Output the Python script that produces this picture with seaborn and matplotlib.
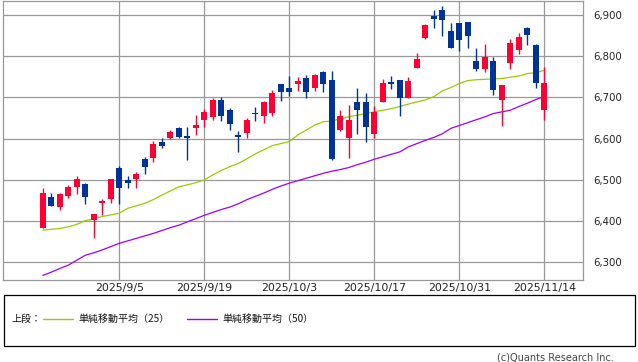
import matplotlib
matplotlib.use("Agg")
import matplotlib.pyplot as plt
from matplotlib.lines import Line2D
from matplotlib.patches import Rectangle
import seaborn as sns
import pandas as pd
import numpy as np

dates = ["2025/8/22", "2025/8/25", "2025/8/26", "2025/8/27", "2025/8/28", "2025/8/29",
         "2025/9/2", "2025/9/3", "2025/9/4", "2025/9/5",
         "2025/9/8", "2025/9/9", "2025/9/10", "2025/9/11", "2025/9/12",
         "2025/9/15", "2025/9/16", "2025/9/17", "2025/9/18", "2025/9/19",
         "2025/9/22", "2025/9/23", "2025/9/24", "2025/9/25", "2025/9/26",
         "2025/9/29", "2025/9/30", "2025/10/1", "2025/10/2", "2025/10/3",
         "2025/10/6", "2025/10/7", "2025/10/8", "2025/10/9", "2025/10/10",
         "2025/10/13", "2025/10/14", "2025/10/15", "2025/10/16", "2025/10/17",
         "2025/10/20", "2025/10/21", "2025/10/22", "2025/10/23", "2025/10/24",
         "2025/10/27", "2025/10/28", "2025/10/29", "2025/10/30", "2025/10/31",
         "2025/11/3", "2025/11/4", "2025/11/5", "2025/11/6", "2025/11/7",
         "2025/11/10", "2025/11/11", "2025/11/12", "2025/11/13", "2025/11/14"]

opens = [6384, 6458, 6435, 6462, 6483, 6491, 6402, 6444, 6454, 6529,
         6499, 6502, 6550, 6554, 6593, 6601, 6626, 6606, 6626, 6646,
         6653, 6694, 6669, 6609, 6614, 6661, 6656, 6663, 6733, 6723,
         6733, 6747, 6723, 6762, 6742, 6622, 6602, 6689, 6689, 6612,
         6690, 6737, 6742, 6699, 6771, 6845, 6898, 6912, 6861, 6881,
         6883, 6788, 6770, 6788, 6694, 6784, 6816, 6868, 6827, 6670]
highs = [6481, 6469, 6469, 6487, 6510, 6493, 6418, 6453, 6502, 6534,
         6509, 6519, 6555, 6594, 6601, 6621, 6628, 6628, 6657, 6672,
         6698, 6700, 6675, 6618, 6650, 6677, 6691, 6718, 6733, 6752,
         6750, 6754, 6757, 6764, 6764, 6669, 6682, 6724, 6711, 6679,
         6745, 6752, 6742, 6750, 6808, 6878, 6912, 6922, 6881, 6881,
         6883, 6820, 6830, 6798, 6730, 6842, 6856, 6871, 6830, 6773]
lows = [6382, 6437, 6427, 6457, 6466, 6442, 6360, 6415, 6444, 6442,
        6481, 6481, 6515, 6544, 6578, 6600, 6601, 6548, 6609, 6628,
        6646, 6644, 6622, 6568, 6602, 6644, 6638, 6656, 6692, 6703,
        6716, 6699, 6716, 6713, 6549, 6619, 6554, 6612, 6593, 6602,
        6690, 6720, 6656, 6699, 6771, 6843, 6869, 6850, 6820, 6813,
        6821, 6765, 6762, 6707, 6631, 6770, 6806, 6828, 6723, 6646]
closes = [6469, 6437, 6466, 6483, 6502, 6459, 6418, 6449, 6502, 6481,
          6493, 6515, 6532, 6587, 6583, 6616, 6605, 6601, 6633, 6665,
          6694, 6656, 6636, 6605, 6645, 6659, 6689, 6711, 6714, 6714,
          6740, 6714, 6754, 6733, 6551, 6655, 6645, 6669, 6629, 6665,
          6735, 6733, 6699, 6740, 6793, 6876, 6891, 6888, 6821, 6840,
          6850, 6770, 6798, 6719, 6730, 6832, 6847, 6851, 6736, 6735]

sma25 = [6378, 6380, 6382, 6386, 6392, 6401, 6405, 6411, 6415, 6419,
         6431, 6437, 6443, 6452, 6463, 6473, 6483, 6488, 6493, 6500,
         6512, 6523, 6532, 6540, 6551, 6563, 6573, 6583, 6588, 6593,
         6609, 6621, 6633, 6641, 6643, 6648, 6653, 6657, 6661, 6665,
         6669, 6673, 6678, 6684, 6689, 6694, 6702, 6716, 6724, 6734,
         6741, 6743, 6744, 6745, 6746, 6749, 6752, 6758, 6760, 6766]
sma50 = [6268, 6276, 6285, 6293, 6305, 6317, 6323, 6330, 6338, 6346,
         6352, 6358, 6364, 6370, 6377, 6384, 6390, 6398, 6406, 6414,
         6421, 6428, 6434, 6442, 6452, 6460, 6468, 6477, 6485, 6492,
         6498, 6504, 6510, 6516, 6521, 6525, 6530, 6537, 6543, 6550,
         6556, 6562, 6568, 6580, 6588, 6596, 6603, 6612, 6625, 6632,
         6639, 6646, 6653, 6661, 6665, 6669, 6678, 6686, 6695, 6703]

ytick_values = [6300, 6400, 6500, 6600, 6700, 6800, 6900]
xtick_dates = ["2025/9/5", "2025/9/19", "2025/10/3", "2025/10/17", "2025/10/31", "2025/11/14"]
legend_labels = ["単純移動平均（25）", "単純移動平均（50）"]
legend_title = "上段："
credit = "(c)Quants Research Inc."

UP = "#ff0033"
DOWN = "#003399"
C25 = "#99cc00"
C50 = "#9900ff"
GRID = "#999999"

sns.set_style("white")
plt.rcParams["font.family"] = ["DejaVu Sans", "Noto Sans CJK JP"]

df = pd.DataFrame({"date": dates, "open": opens, "high": highs, "low": lows,
                   "close": closes, "sma25": sma25, "sma50": sma50})
df["pos"] = np.arange(len(df))
df["up"] = df["close"] >= df["open"]
df["body_lo"] = df[["open", "close"]].min(axis=1)
df["body_h"] = (df["close"] - df["open"]).abs().clip(lower=3)

W, H = 638, 362
fig = plt.figure(figsize=(W / 100, H / 100), dpi=100)
fig.patch.set_facecolor("white")
ax = fig.add_axes([3.3 / W, 1 - 280 / H, (582.7 - 3.3) / W, (280 - 1) / H])

ax.set_xlim(-4.64, 63.5)
ax.set_ylim(6257, 6934)

# moving averages
sns.lineplot(data=df, x="pos", y="sma25", ax=ax, color=C25, lw=0.9, zorder=2, legend=False)
sns.lineplot(data=df, x="pos", y="sma50", ax=ax, color=C50, lw=0.9, zorder=2, legend=False)

# candles
cols = np.where(df["up"], UP, DOWN)
ax.vlines(df["pos"], df["low"], df["high"], colors=cols, lw=1.0, zorder=3)
ax.bar(df["pos"], df["body_h"], bottom=df["body_lo"], width=0.7, color=cols,
       linewidth=0, zorder=4)

# axes styling
pos_map = dict(zip(df["date"], df["pos"]))
ax.set_xticks([pos_map[d] for d in xtick_dates])
ax.set_xticklabels(xtick_dates, fontsize=7.9, color="#222222")
ax.set_yticks(ytick_values)
ax.set_yticklabels([f"{v:,}" for v in ytick_values], fontsize=7.3, color="#222222")
ax.yaxis.tick_right()
ax.tick_params(axis="both", length=0)
ax.tick_params(axis="y", pad=7.5)
ax.tick_params(axis="x", pad=2.0)
ax.set_xlabel("")
ax.set_ylabel("")
ax.grid(True, color=GRID, lw=0.9, zorder=0)
ax.set_axisbelow(True)
for s in ax.spines.values():
    s.set_color(GRID)
    s.set_linewidth(0.9)
    s.set_visible(True)

# legend box
box = Rectangle((3.5 / W, 1 - 346 / H), (635 - 3.5) / W, (346 - 295) / H,
                transform=fig.transFigure, fill=False, edgecolor="black", lw=0.9)
fig.patches.append(box)
ly = 1 - 318.5 / H
cjk = ["Noto Sans CJK JP", "DejaVu Sans"]
fig.text(11.5 / W, ly, legend_title, fontsize=7.2, family=cjk, va="center", ha="left", color="#111111")
fig.add_artist(Line2D([43 / W, 73 / W], [ly, ly], color=C25, lw=1.0, transform=fig.transFigure))
fig.text(78 / W, ly, legend_labels[0], fontsize=7.2, family=cjk, va="center", ha="left", color="#111111")
fig.add_artist(Line2D([187 / W, 217 / W], [ly, ly], color=C50, lw=1.0, transform=fig.transFigure))
fig.text(222 / W, ly, legend_labels[1], fontsize=7.2, family=cjk, va="center", ha="left", color="#111111")

fig.text(614 / W, 1 - 357 / H, credit, fontsize=7.0, ha="right", va="center", color="#444444")

fig.savefig("out.png", dpi=100, facecolor="white")
